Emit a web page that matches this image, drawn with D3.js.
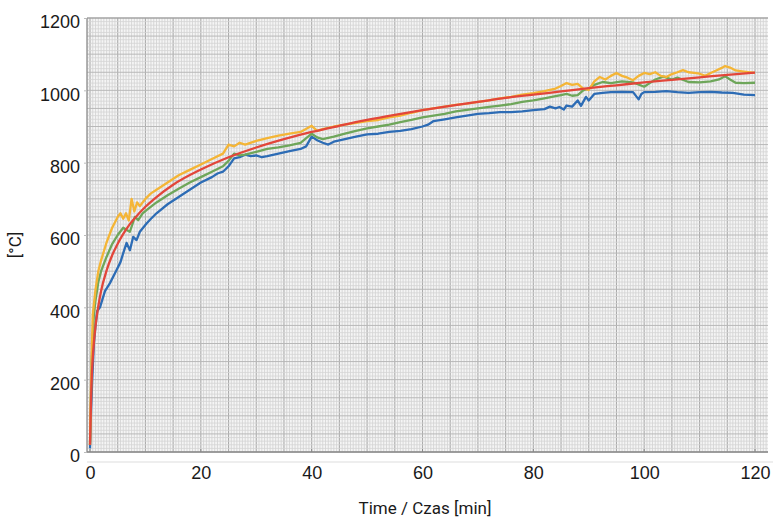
<!DOCTYPE html>
<html>
<head>
<meta charset="utf-8">
<script src="https://cdn.jsdelivr.net/npm/d3@7"></script>
<style>
  body { margin: 0; background: #fff; }
  svg { display: block; font-family: Roboto, "Noto Sans", sans-serif; }
</style>
</head>
<body>
<svg id="chart" width="773" height="518"></svg>
<script>
// tick labels
const xTicks = [0, 20, 40, 60, 80, 100, 120];
const yTicks = [0, 200, 400, 600, 800, 1000, 1200];

// series, [time min, temperature °C]
const blue = [[0,10],[0.2,120],[0.4,200],[0.7,300],[1,350],[1.3,390],[1.8,400],[2.2,420],[2.7,445],[3.6,467],[4.8,503],[5.5,525],[6,550],[6.6,578],[7.2,558],[7.8,595],[8.4,586],[9,609],[10.2,632],[11,645],[12,660],[14,685],[16,705],[18,725],[20,745],[22,760],[23,770],[24,775],[25,790],[26,812],[27,815],[28,822],[29,818],[30,820],[31,815],[32,818],[34,825],[36,832],[38,838],[39,845],[40,872],[41,862],[42,855],[43,850],[44,858],[46,865],[48,872],[50,878],[52,880],[54,885],[56,888],[58,893],[60,900],[61,905],[62,915],[64,920],[66,925],[68,930],[70,935],[72,937],[74,940],[76,940],[78,942],[80,945],[82,948],[83,955],[84,950],[84.7,954],[85.5,947],[86,958],[87,955],[88,972],[88.6,957],[89.5,982],[90,972],[91,990],[92.5,993],[94,995],[96,996],[98,995],[99,975],[99.5,990],[100,995],[102,996],[104,998],[106,995],[108,993],[110,995],[112,996],[114,994],[116,993],[118,988],[120,987]];

const green = [[0,20],[0.3,250],[0.7,380],[1,420],[1.5,470],[2,500],[3,540],[4,575],[5,600],[6,620],[6.6,614],[7.2,609],[8.1,650],[8.7,641],[9.5,660],[10.2,669],[12,690],[14,710],[16,728],[18,745],[20,760],[22,775],[24,790],[25,805],[26,825],[27,820],[28,822],[30,830],[32,838],[34,842],[36,848],[38,855],[40,880],[41,870],[42,865],[44,872],[46,880],[48,888],[50,895],[52,900],[54,905],[56,912],[58,918],[60,925],[62,930],[64,935],[66,942],[68,946],[70,950],[72,954],[74,958],[76,962],[78,968],[80,972],[82,978],[84,984],[85,987],[86,990],[87,985],[88,987],[89,1000],[90,1005],[91,1015],[92.5,1023],[94,1020],[96,1025],[98,1022],[100,1010],[101,1020],[102,1030],[103.5,1038],[105,1030],[106,1035],[108,1023],[110,1022],[112,1025],[113.5,1030],[114.6,1039],[115.5,1030],[116.5,1021],[118,1020],[120,1021]];

const orange = [[0,20],[0.2,200],[0.5,380],[1,450],[1.5,500],[2,530],[3,580],[4,620],[5,650],[5.5,660],[6,645],[6.5,660],[7,640],[7.5,700],[8,665],[8.5,690],[9,680],[10,700],[11,715],[12,725],[14,745],[16,765],[18,780],[20,795],[22,810],[24,825],[25,850],[26,845],[27,855],[28,850],[30,860],[32,868],[34,875],[36,880],[38,885],[40,902],[41,888],[42,893],[44,900],[46,905],[48,910],[50,915],[52,918],[54,925],[56,930],[58,938],[60,945],[62,950],[64,955],[66,960],[68,963],[70,968],[72,972],[74,978],[76,982],[78,988],[80,992],[82,998],[84,1005],[85,1012],[86,1020],[87,1015],[88,1018],[89,1005],[90,1001],[91,1025],[92,1037],[93,1030],[94,1040],[95,1048],[96,1040],[97,1035],[98,1028],[99,1040],[100,1048],[101,1045],[102,1050],[103,1040],[104,1037],[105,1045],[106,1050],[107,1056],[108,1050],[109,1048],[110,1046],[111,1040],[112,1048],[113,1055],[114,1062],[114.6,1067],[115.5,1063],[116.5,1055],[118,1052],[120,1048]];

const red = [[0,20],[0.25,181],[0.5,261],[0.75,311],[1,349],[1.5,403],[2,445],[3,502],[4,544],[5,576],[6,603],[7,626],[8,645],[10,678],[12,705],[15,739],[20,781],[25,815],[30,842],[35,865],[40,885],[45,902],[50,918],[55,932],[60,945],[65,957],[70,968],[75,979],[80,988],[85,997],[90,1006],[95,1014],[100,1022],[105,1029],[110,1036],[115,1043],[120,1049]];

const svg = d3.select("#chart");

const x = d3.scaleLinear().domain([0, 120]).range([90, 755]);
const y = d3.scaleLinear().domain([0, 1200]).range([452, 18]);

const left = 87, right = 768;
const tRight = x.invert(right);

// graph paper background
const grid = svg.append("g");
grid.append("rect")
  .attr("x", left).attr("y", y(1200))
  .attr("width", right - left).attr("height", y(0) - y(1200))
  .attr("fill", "#f5f5f5");

const vLines = d3.range(-0.5, tRight, 0.5);
grid.selectAll(".v")
  .data(vLines)
  .enter().append("line")
  .attr("x1", d => x(d)).attr("x2", d => x(d))
  .attr("y1", y(1200)).attr("y2", y(0))
  .attr("stroke", d => d % 5 === 0 ? "#ababab" : "#d0d0d0")
  .attr("stroke-width", d => d % 5 === 0 ? 1.1 : 0.8);

const hLines = d3.range(0, 1201, 10);
grid.selectAll(".h")
  .data(hLines)
  .enter().append("line")
  .attr("x1", left).attr("x2", right)
  .attr("y1", d => y(d)).attr("y2", d => y(d))
  .attr("stroke", d => d % 50 === 0 ? "#b8b8b8" : "#d4d4d4")
  .attr("stroke-width", d => d % 50 === 0 ? 1 : 0.8);

// frame
grid.append("line").attr("x1", left).attr("x2", left).attr("y1", y(1200)).attr("y2", y(0))
  .attr("stroke", "#888").attr("stroke-width", 1.2);
grid.append("line").attr("x1", left).attr("x2", right).attr("y1", y(0)).attr("y2", y(0))
  .attr("stroke", "#888").attr("stroke-width", 1.5);
grid.append("line").attr("x1", left).attr("x2", right).attr("y1", y(1200)).attr("y2", y(1200))
  .attr("stroke", "#999").attr("stroke-width", 1);

// axes
const yAxis = svg.append("g")
  .attr("transform", `translate(${left},0)`)
  .call(d3.axisLeft(y).tickValues(yTicks).tickFormat(d3.format("d")).tickSize(3).tickPadding(4));
yAxis.select(".domain").remove();
yAxis.selectAll(".tick line").attr("stroke", "#bbb");
yAxis.selectAll(".tick text")
  .attr("dy", "0.55em")
  .style("font-size", "18px")
  .attr("fill", "#1a1a1a");

const xAxis = svg.append("g")
  .attr("transform", `translate(0,462)`)
  .call(d3.axisBottom(x).tickValues(xTicks).tickFormat(d3.format("d")).tickSize(0).tickPadding(4));
xAxis.select(".domain")
  .attr("d", `M${left},0H773`)
  .attr("stroke", "#ddd");
xAxis.selectAll(".tick text")
  .style("font-size", "18px")
  .attr("fill", "#1a1a1a");

// small tick marks along bottom edge
svg.append("g").selectAll("line")
  .data(xTicks)
  .enter().append("line")
  .attr("x1", d => x(d)).attr("x2", d => x(d))
  .attr("y1", y(0) - 3).attr("y2", y(0))
  .attr("stroke", "#888");

// axis titles
svg.append("text")
  .attr("x", 425).attr("y", 514)
  .attr("text-anchor", "middle")
  .style("font-size", "17px")
  .attr("fill", "#1a1a1a")
  .text("Time / Czas [min]");

svg.append("text")
  .attr("transform", "translate(21,245) rotate(-90)")
  .attr("text-anchor", "middle")
  .style("font-size", "17px")
  .attr("fill", "#1a1a1a")
  .text("[°C]");

// lines
const line = d3.line().x(d => x(d[0])).y(d => y(d[1]));
const smooth = d3.line().x(d => x(d[0])).y(d => y(d[1])).curve(d3.curveMonotoneX);

const series = [
  {data: blue, color: "#2d6cb5", gen: line},
  {data: green, color: "#6ea65a", gen: line},
  {data: orange, color: "#f4b536", gen: line},
  {data: red, color: "#e2463a", gen: smooth}
];

svg.append("g").selectAll("path")
  .data(series)
  .enter().append("path")
  .attr("d", d => d.gen(d.data))
  .attr("fill", "none")
  .attr("stroke", d => d.color)
  .attr("stroke-width", 2.3)
  .attr("stroke-linejoin", "round");
</script>
</body>
</html>
